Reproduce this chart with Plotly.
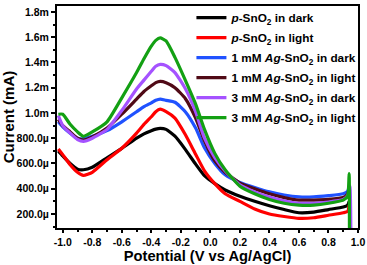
import plotly.graph_objects as go

# Potential (V vs Ag/AgCl)
potential = [-1.03, -1.0, -0.95, -0.9, -0.86, -0.8, -0.7, -0.6, -0.5, -0.45, -0.4, -0.37, -0.34,
             -0.3, -0.24, -0.17, -0.1, -0.04, 0.03, 0.1, 0.2, 0.3, 0.4, 0.5, 0.6, 0.7,
             0.8, 0.9, 0.93]

# Current (mA)
p_dark = [0.70, 0.66, 0.60, 0.555, 0.55, 0.57, 0.645, 0.72, 0.80, 0.835, 0.86, 0.872, 0.878,
          0.87, 0.816, 0.712, 0.595, 0.503, 0.44, 0.39, 0.34, 0.30, 0.265, 0.235, 0.21,
          0.215, 0.235, 0.255, 0.27]
p_light = [0.715, 0.67, 0.59, 0.53, 0.505, 0.53, 0.63, 0.72, 0.84, 0.91, 0.97, 1.01, 1.03,
           1.01, 0.959, 0.829, 0.673, 0.542, 0.44, 0.36, 0.30, 0.24, 0.20, 0.18, 0.165,
           0.17, 0.19, 0.21, 0.22]
ag1_dark = [0.93, 0.89, 0.84, 0.80, 0.795, 0.815, 0.86, 0.93, 1.01, 1.05, 1.08, 1.10, 1.11,
            1.10, 1.085, 1.01, 0.88, 0.724, 0.60, 0.51, 0.45, 0.41, 0.375, 0.35, 0.335,
            0.335, 0.345, 0.36, 0.38]
ag1_light = [0.95, 0.90, 0.85, 0.80, 0.785, 0.81, 0.88, 0.99, 1.11, 1.17, 1.215, 1.24, 1.25,
             1.24, 1.20, 1.115, 0.96, 0.78, 0.62, 0.53, 0.445, 0.40, 0.36, 0.33, 0.31,
             0.31, 0.315, 0.33, 0.36]
ag3_dark = [0.98, 0.90, 0.84, 0.79, 0.775, 0.80, 0.87, 1.02, 1.19, 1.26, 1.33, 1.37, 1.385,
            1.375, 1.32, 1.193, 1.01, 0.80, 0.646, 0.54, 0.43, 0.375, 0.335, 0.305, 0.285,
            0.285, 0.295, 0.315, 0.345]
ag3_light = [0.99, 0.99, 0.91, 0.85, 0.815, 0.85, 0.93, 1.12, 1.32, 1.43, 1.53, 1.575, 1.595,
             1.57, 1.44, 1.26, 1.07, 0.87, 0.68, 0.55, 0.42, 0.36, 0.315, 0.285, 0.27,
             0.27, 0.285, 0.31, 0.34]

# end-of-scan spike (potential, current)
spike_x = {"p_dark": [0.94], "p_light": [0.94], "ag1_dark": [0.94], "ag1_light": [0.94],
           "ag3_dark": [0.945, 0.952], "ag3_light": [0.94, 0.942]}
spike_y = {"p_dark": [0.30], "p_light": [0.27], "ag1_dark": [0.42], "ag1_light": [0.40],
           "ag3_dark": [0.42, 0.0], "ag3_light": [0.52, 0.0]}

series = [
    ("p_dark", "<i>p</i>-SnO<sub>2</sub> in dark", p_dark, "#000000"),
    ("p_light", "<i>p</i>-SnO<sub>2</sub> in light", p_light, "#ff0000"),
    ("ag1_dark", "1 mM <i>Ag</i>-SnO<sub>2</sub> in dark", ag1_dark, "#2052ff"),
    ("ag1_light", "1 mM <i>Ag</i>-SnO<sub>2</sub> in light", ag1_light, "#500a16"),
    ("ag3_dark", "3 mM <i>Ag</i>-SnO<sub>2</sub> in dark", ag3_dark, "#a552ff"),
    ("ag3_light", "3 mM <i>Ag</i>-SnO<sub>2</sub> in light", ag3_light, "#13a013"),
]

y_tickvals = [0.2, 0.4, 0.6, 0.8, 1.0, 1.2, 1.4, 1.6, 1.8]
y_ticktext = ["200.0µ", "400.0µ", "600.0µ", "800.0µ", "1.0m", "1.2m", "1.4m", "1.6m", "1.8m"]
x_tickvals = [-1.0, -0.8, -0.6, -0.4, -0.2, 0.0, 0.2, 0.4, 0.6, 0.8, 1.0]
x_ticktext = ["-1.0", "-0.8", "-0.6", "-0.4", "-0.2", "0.0", "0.2", "0.4", "0.6", "0.8", "1.0"]

FONT = "Arial, Liberation Sans, sans-serif"

fig = go.Figure()
for key, name, vals, color in series:
    fig.add_trace(go.Scatter(
        x=potential + spike_x[key], y=vals + spike_y[key], mode="lines", name="<b>" + name + "</b>",
        legendgroup=key,
        line=dict(color=color, width=3.2, shape="spline", smoothing=0.5)))

fig.update_layout(
    width=367, height=265,
    margin=dict(l=57, r=9, t=3, b=37),
    paper_bgcolor="white", plot_bgcolor="white",
    font=dict(family=FONT, color="black"),
    showlegend=True,
    legend=dict(x=0.4466, y=1.0133, xanchor="left", yanchor="top",
                font=dict(size=11.8, family=FONT, color="black"),
                bgcolor="rgba(0,0,0,0)", itemwidth=30, tracegroupgap=1),
    xaxis=dict(range=[-1.039, 1.0], tickvals=x_tickvals, ticktext=x_ticktext, automargin=False,
               showline=True, linecolor="black", linewidth=2, mirror=True,
               ticks="outside", ticklen=3, tickwidth=1.5, tickcolor="black",
               minor=dict(dtick=0.1, tick0=0, ticks="outside", ticklen=2, tickcolor="black"),
               showgrid=False, zeroline=False,
               tickfont=dict(size=10.5, family=FONT, weight="bold"),
               title=dict(text="<b>Potential (V vs Ag/AgCl)</b>", font=dict(size=14.7, family=FONT), standoff=0)),
    yaxis=dict(range=[0.089, 1.847], tickvals=y_tickvals, ticktext=y_ticktext, automargin=False,
               showline=True, linecolor="black", linewidth=2, mirror=True,
               ticks="outside", ticklen=4, tickwidth=1.5, tickcolor="black",
               minor=dict(dtick=0.1, tick0=0, ticks="outside", ticklen=2, tickcolor="black"),
               showgrid=False, zeroline=False,
               tickfont=dict(size=10.5, family=FONT, weight="bold"),
               title=dict(text="<b>Current (mA)</b>", font=dict(size=15, family=FONT), standoff=2)),
)

fig.write_html("out.html", config={"displayModeBar": False},
               post_script="document.body.style.margin='0px';")
